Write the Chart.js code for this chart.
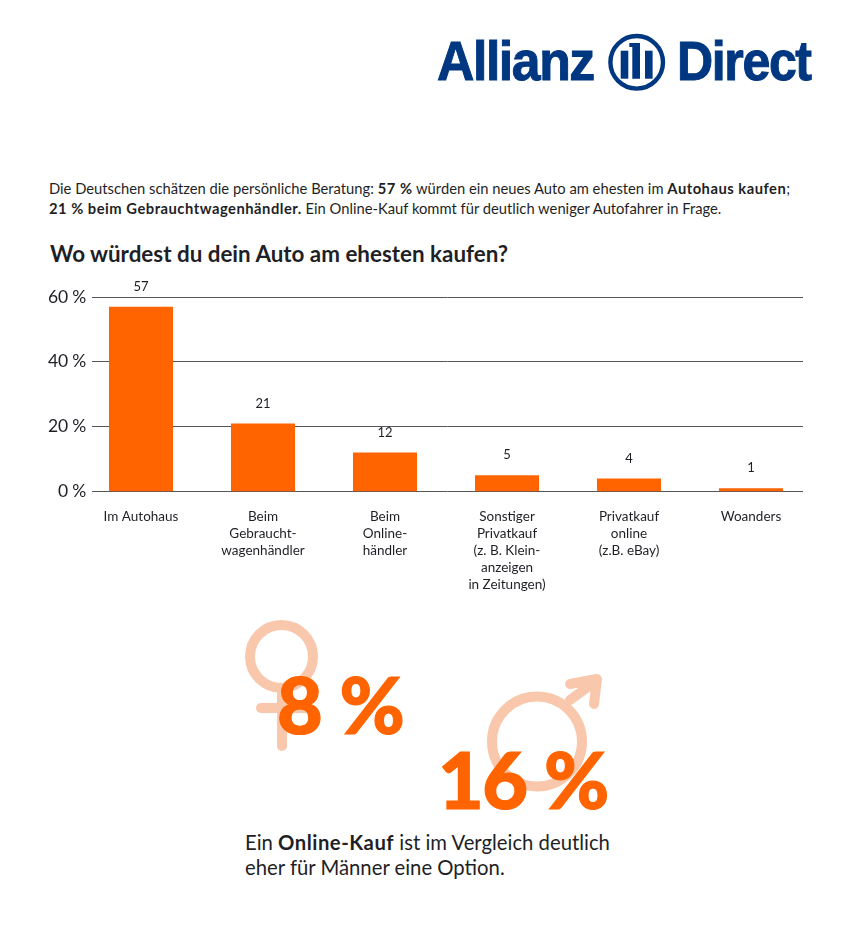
<!DOCTYPE html>
<html lang="de">
<head>
<meta charset="utf-8">
<script src="https://cdn.jsdelivr.net/npm/chart.js@4"></script>
<style>
html,body{margin:0;padding:0;background:#fff;}
#page{position:relative;width:850px;height:942px;overflow:hidden;font-family:Lato,"Open Sans",sans-serif;color:#1f1f26;}
#page div.t{position:absolute;white-space:nowrap;}
#page div.t b{letter-spacing:.5px;}
#chartWrap{position:absolute;left:0;top:270px;width:850px;height:340px;}
svg{position:absolute;left:0;top:0;}
.logo{position:absolute;font-family:"Liberation Sans",sans-serif;font-weight:700;color:#003781;white-space:nowrap;line-height:1;transform-origin:left top;-webkit-text-stroke:1px #003781;}
.big{font-weight:900;color:#ff6400;-webkit-text-stroke:1.2px #ff6400;}
</style>
</head>
<body>
<div id="page">
<svg width="850" height="942" fill="none">
  <circle cx="636.7" cy="62.3" r="26.3" stroke="#003781" stroke-width="4.4"/>
  <g fill="#003781">
    <rect x="620.7" y="50.7" width="7.6" height="28"/>
    <path d="M629.3 43H640V78.700H632.300V47H629.300z"/>
    <rect x="645" y="50.7" width="7.6" height="28"/>
  </g>
  <g stroke="#f9c8ac" stroke-width="10" stroke-linecap="round">
    <circle cx="281.500" cy="656.500" r="31.500"/>
    <path d="M282 690V746M261 708H306"/>
    <circle cx="537" cy="741.500" r="45"/>
    <path d="M570 700L596 681M570 684L597 679L594 704" stroke-linejoin="round"/>
  </g>
</svg>
<div class="logo" style="left:437px;top:34px;font-size:55px;letter-spacing:-1.5px;transform:scaleX(.94);">Allianz</div>
<div class="logo" style="left:677px;top:34px;font-size:55px;letter-spacing:-1.5px;transform:scaleX(.91);">Direct</div>

<div class="t" style="left:49px;top:178px;font-size:14.750px;line-height:20px;">Die Deutschen schätzen die persönliche Beratung: <b>57 %</b> würden ein neues Auto am ehesten im <b>Autohaus kaufen</b>;<br><b>21 % beim Gebrauchtwagenhändler.</b> Ein Online-Kauf kommt für deutlich weniger Autofahrer in Frage.</div>
<div class="t" style="left:50px;top:239px;font-size:22.400px;line-height:30px;font-weight:700;">Wo würdest du dein Auto am ehesten kaufen?</div>

<div id="chartWrap"><canvas id="c" width="850" height="340"></canvas></div>

<div class="t big" style="left:277px;top:656px;font-size:79px;line-height:96px;letter-spacing:-1px;">8 %</div>
<div class="t big" style="left:438px;top:731px;font-size:79px;line-height:96px;letter-spacing:-1.5px;">16 %</div>
<div class="t" style="left:245px;top:830px;font-size:20.300px;line-height:25px;">Ein <b>Online-Kauf</b> ist im Vergleich deutlich<br>eher für Männer eine Option.</div>
</div>

<script>
const categories = [
  ["Im Autohaus"],
  ["Beim","Gebraucht-","wagenhändler"],
  ["Beim","Online-","händler"],
  ["Sonstiger","Privatkauf","(z. B. Klein-","anzeigen","in Zeitungen)"],
  ["Privatkauf","online","(z.B. eBay)"],
  ["Woanders"]
];
const values = [57, 21, 12, 5, 4, 1];
const yTicks = [0, 20, 40, 60];
const barColor = "#ff6400";
const gridColor = "#55565c";
const inkColor = "#1f1f26";
const fontFamily = 'Lato, "Open Sans", sans-serif';

const gridAndLabels = {
  id: "gridAndLabels",
  beforeDatasetsDraw(chart) {
    const {ctx, scales:{y}} = chart;
    ctx.save();
    ctx.strokeStyle = gridColor;
    ctx.lineWidth = 1;
    yTicks.forEach(v => {
      const py = Math.floor(y.getPixelForValue(v)) + 0.5;
      ctx.beginPath(); ctx.moveTo(92, py); ctx.lineTo(803, py); ctx.stroke();
    });
    ctx.fillStyle = inkColor;
    ctx.font = "17.5px " + fontFamily;
    ctx.letterSpacing = "-0.2px";
    ctx.textAlign = "right";
    ctx.textBaseline = "middle";
    yTicks.forEach(v => ctx.fillText(v + " %", 86, y.getPixelForValue(v)));
    ctx.restore();
  },
  afterDatasetsDraw(chart) {
    const {ctx} = chart;
    const meta = chart.getDatasetMeta(0);
    ctx.save();
    ctx.fillStyle = inkColor;
    ctx.font = "13px " + fontFamily;
    ctx.textAlign = "center";
    ctx.textBaseline = "middle";
    meta.data.forEach((bar, i) => ctx.fillText(String(values[i]), bar.x, bar.y - 20));
    ctx.restore();
  }
};

new Chart(document.getElementById("c"), {
  type: "bar",
  plugins: [gridAndLabels],
  data: { labels: categories, datasets: [{ data: values, backgroundColor: barColor, barPercentage: 0.525, categoryPercentage: 1 }] },
  options: {
    responsive: false,
    animation: false,
    layout: { padding: { top: 27, right: 38, left: 0, bottom: 0 } },
    plugins: { legend: { display: false }, tooltip: { enabled: false } },
    scales: {
      x: {
        grid: { display: false }, border: { display: false },
        afterFit(s) { s.height = 118.5; },
        ticks: { autoSkip: false, maxRotation: 0, minRotation: 0, padding: 9, color: inkColor, font: { family: fontFamily, size: 13.5, lineHeight: 1.25 } }
      },
      y: {
        min: 0, max: 60,
        afterFit(s) { s.width = 80; },
        grid: { display: false }, border: { display: false },
        afterBuildTicks(s) { s.ticks = yTicks.map(v => ({ value: v })); },
        ticks: { display: false }
      }
    }
  }
});
</script>
</body>
</html>
